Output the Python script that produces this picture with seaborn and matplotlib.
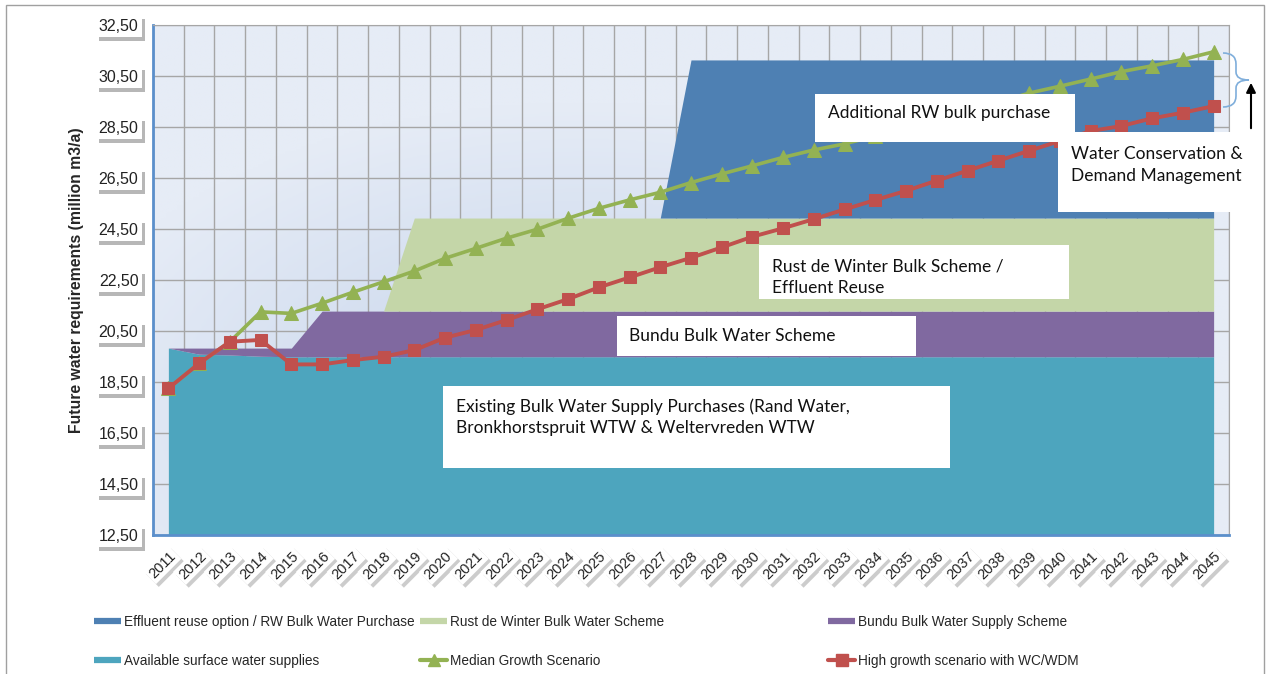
import numpy as np
import pandas as pd
import matplotlib
matplotlib.use("Agg")
import matplotlib.pyplot as plt
import seaborn as sns
from matplotlib import patheffects as pe
from matplotlib.lines import Line2D
from matplotlib.patches import Rectangle, FancyArrowPatch, PathPatch
from matplotlib.path import Path

# ---- data (million m3/a) ----
years = list(range(2011, 2046))

# stacked supply layers (thickness of each band)
surface = [19.83, 19.59, 19.56, 19.51, 19.49, 19.49, 19.49, 19.49, 19.49, 19.49,
           19.49, 19.49, 19.49, 19.49, 19.49, 19.49, 19.49, 19.49, 19.49, 19.49,
           19.49, 19.49, 19.49, 19.49, 19.49, 19.49, 19.49, 19.49, 19.49, 19.49,
           19.49, 19.49, 19.49, 19.49, 19.49]
bundu = [0.00, 0.24, 0.27, 0.32, 0.34, 1.79, 1.79, 1.79, 1.79, 1.79,
         1.79, 1.79, 1.79, 1.79, 1.79, 1.79, 1.79, 1.79, 1.79, 1.79,
         1.79, 1.79, 1.79, 1.79, 1.79, 1.79, 1.79, 1.79, 1.79, 1.79,
         1.79, 1.79, 1.79, 1.79, 1.79]
rust = [0.00, 0.00, 0.00, 0.00, 0.00, 0.00, 0.00, 0.00, 3.65, 3.65,
        3.65, 3.65, 3.65, 3.65, 3.65, 3.65, 3.65, 3.65, 3.65, 3.65,
        3.65, 3.65, 3.65, 3.65, 3.65, 3.65, 3.65, 3.65, 3.65, 3.65,
        3.65, 3.65, 3.65, 3.65, 3.65]
effluent = [0.00, 0.00, 0.00, 0.00, 0.00, 0.00, 0.00, 0.00, 0.00, 0.00,
            0.00, 0.00, 0.00, 0.00, 0.00, 0.00, 0.00, 6.20, 6.20, 6.20,
            6.20, 6.20, 6.20, 6.20, 6.20, 6.20, 6.20, 6.20, 6.20, 6.20,
            6.20, 6.20, 6.20, 6.20, 6.20]

# demand scenarios
median = [18.25, 19.23, 20.08, 21.25, 21.19, 21.59, 22.02, 22.43, 22.85, 23.35,
          23.74, 24.14, 24.49, 24.92, 25.31, 25.64, 25.94, 26.32, 26.66, 26.98,
          27.31, 27.60, 27.84, 28.15, 28.47, 28.80, 29.13, 29.47, 29.83, 30.10,
          30.38, 30.67, 30.90, 31.15, 31.45]
high = [18.25, 19.23, 20.08, 20.15, 19.19, 19.19, 19.36, 19.49, 19.75, 20.24,
        20.54, 20.93, 21.35, 21.75, 22.21, 22.60, 23.00, 23.37, 23.78, 24.20,
        24.53, 24.89, 25.27, 25.64, 26.00, 26.40, 26.79, 27.18, 27.57, 27.95,
        28.34, 28.54, 28.84, 29.06, 29.32]

y_ticks = [12.5, 14.5, 16.5, 18.5, 20.5, 22.5, 24.5, 26.5, 28.5, 30.5, 32.5]

c_surface, c_bundu, c_rust, c_eff = "#4DA5BE", "#8069A0", "#C4D6A8", "#4E80B3"
c_median, c_high = "#93B253", "#C0504D"

sns.set_style("white")
plt.rcParams["font.family"] = ["Liberation Sans", "DejaVu Sans"]

W, H = 1276, 674
fig = plt.figure(figsize=(W / 100, H / 100), dpi=100)


def px(x, y):
    return x / W, 1 - y / H


ax = fig.add_axes([153 / W, 1 - 535 / H, (1229 - 153) / W, (535 - 25) / H])
idx = np.arange(len(years))

# plot-area gradient
gx, gy = np.meshgrid(np.linspace(0, 1, 200), np.linspace(0, 1, 200))
grad = np.sqrt(((gx - 0.4) * 1.2) ** 2 + ((gy - 0.25) * 1.0) ** 2)
cmap = matplotlib.colors.LinearSegmentedColormap.from_list("bg", ["#C4D3EB", "#E6ECF6"])
ax.imshow(grad, extent=(0, 1, 0, 1), transform=ax.transAxes, cmap=cmap,
          aspect="auto", origin="lower", zorder=0, vmin=0, vmax=0.6)

ax.stackplot(idx, surface, bundu, rust, effluent,
             colors=[c_surface, c_bundu, c_rust, c_eff], linewidth=0, zorder=2)

df = pd.DataFrame({"idx": idx, "median": median, "high": high})
sns.lineplot(data=df, x="idx", y="median", ax=ax, color=c_median, lw=2.6,
             marker="^", markersize=10, markeredgecolor=c_median, zorder=4)
sns.lineplot(data=df, x="idx", y="high", ax=ax, color=c_high, lw=2.8,
             marker="s", markersize=9, markeredgecolor=c_high, zorder=5)

ax.set_xlim(-0.5, len(years) - 0.5)
ax.set_ylim(12.5, 32.5)
ax.set_xlabel("")
ax.set_ylabel("")

# grid at category boundaries, labels at category centres
ax.set_xticks(np.arange(-0.5, len(years), 1.0))
ax.set_xticklabels([])
ax.set_xticks(idx, labels=[str(y) for y in years], minor=True)
ax.set_yticks(y_ticks, labels=[f"{v:.2f}".replace(".", ",") for v in y_ticks])
ax.set_yticks(np.arange(12.5, 32.5, 0.4), minor=True)
ax.grid(True, which="major", color="#A6A6A6", lw=1)
ax.set_axisbelow(True)

blue = "#5B8FCB"
ax.tick_params(axis="y", which="major", colors=blue, direction="inout", length=7, width=1.5,
               labelcolor="#222222", labelsize=11.5, pad=7)
ax.tick_params(axis="y", which="minor", colors=blue, direction="in", length=4, width=1.2)
ax.tick_params(axis="x", which="major", colors=blue, direction="inout", length=5, width=1.2)
ax.tick_params(axis="x", which="minor", length=0, labelcolor="#222222", labelsize=10.5, pad=10)
for s in ["left", "bottom"]:
    ax.spines[s].set_color(blue)
    ax.spines[s].set_linewidth(2)
for s in ["top", "right"]:
    ax.spines[s].set_color("#A6A6A6")

shadow = [pe.SimplePatchShadow(offset=(2.5, -2.5), shadow_rgbFace="0.3", alpha=0.4), pe.Normal()]
xshadow = [pe.SimplePatchShadow(offset=(2, -2), shadow_rgbFace="0.35", alpha=0.3), pe.Normal()]
for t in ax.get_yticklabels():
    t.set_bbox(dict(boxstyle="square,pad=0.2", fc="white", ec="none"))
    t.get_bbox_patch().set_path_effects(shadow)
for t in ax.get_xticklabels(minor=True):
    t.set_rotation(45)
    t.set_ha("right")
    t.set_va("top")
    t.set_rotation_mode("anchor")
    t.set_bbox(dict(boxstyle="square,pad=0.15", fc="white", ec="none"))
    t.get_bbox_patch().set_path_effects(xshadow)

fig.text(*px(77, 280), "Future water requirements (million m3/a)", rotation=90,
         ha="center", va="center", fontsize=11.3, fontweight="bold")

# annotation boxes
boxes = [
    ((815, 94, 1075, 142), (828, 113), "Additional RW bulk purchase"),
    ((1058, 132, 1262, 212), (1071, 165), "Water Conservation &\nDemand Management"),
    ((759, 245, 1069, 299), (772, 277), "Rust de Winter Bulk Scheme /\nEffluent Reuse"),
    ((617, 316, 916, 356), (629, 336), "Bundu Bulk Water Scheme"),
    ((443, 386, 950, 468), (456, 417), "Existing Bulk Water Supply Purchases (Rand Water,\nBronkhorstspruit WTW & Weltervreden WTW"),
]
for (x0, y0, x1, y1), (tx, ty), txt in boxes:
    fig.add_artist(Rectangle(px(x0, y1), (x1 - x0) / W, (y1 - y0) / H,
                             transform=fig.transFigure, fc="white", ec="none", zorder=6))
    fig.text(*px(tx, ty), txt, ha="left", va="center", fontsize=12.5, family="Lato",
             color="#111111", linespacing=1.4, zorder=7)

# brace and arrow for WC/WDM
verts = [(1223, 53), (1236, 53), (1236, 64), (1236, 72), (1236, 80), (1249, 80),
         (1236, 80), (1236, 88), (1236, 96), (1236, 107), (1223, 107)]
codes = [Path.MOVETO, Path.CURVE3, Path.CURVE3, Path.LINETO, Path.CURVE3, Path.CURVE3,
         Path.CURVE3, Path.CURVE3, Path.LINETO, Path.CURVE3, Path.CURVE3]
fig.add_artist(PathPatch(Path([px(*v) for v in verts], codes), transform=fig.transFigure,
                         fc="none", ec="#7FAEDB", lw=1.2, zorder=8))
fig.add_artist(FancyArrowPatch(px(1251, 131), px(1251, 80), transform=fig.transFigure,
                               arrowstyle="-|>", mutation_scale=14, color="black", lw=1.5, zorder=8))

# legend (three columns, two rows each)
def band(c):
    return Line2D([], [], color=c, lw=4.5, solid_capstyle="butt")

cols = [
    (94, [band(c_eff), band(c_surface)],
     ["Effluent reuse option / RW Bulk Water Purchase", "Available surface water supplies"]),
    (420, [band(c_rust), Line2D([], [], color=c_median, lw=3, marker="^", markersize=8)],
     ["Rust de Winter Bulk Water Scheme", "Median Growth Scenario"]),
    (828, [band(c_bundu), Line2D([], [], color=c_high, lw=3, marker="s", markersize=8)],
     ["Bundu Bulk Water Supply Scheme", "High growth scenario with WC/WDM"]),
]
for x, hs, ls in cols:
    fig.legend(hs, ls, loc="center left", bbox_to_anchor=px(x, 641.5), frameon=False,
               fontsize=9.8, handlelength=2.0, handletextpad=0.2, labelspacing=1.85,
               borderpad=0, borderaxespad=0)

fig.add_artist(Rectangle(px(6, 700), (1264 - 6) / W, (700 - 5) / H, transform=fig.transFigure,
                         fc="none", ec="#A0A0A0", lw=1, zorder=0))

fig.savefig("out.png", dpi=100)
